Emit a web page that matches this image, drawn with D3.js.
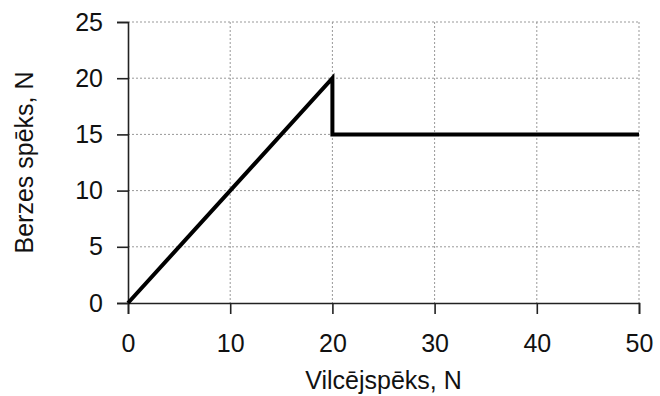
<!DOCTYPE html>
<html>
<head>
<meta charset="utf-8">
<script src="https://cdn.jsdelivr.net/npm/d3@7"></script>
<style>
  body { margin: 0; background: #fff; }
  text { font-family: "Liberation Sans", Arial, Helvetica, sans-serif; fill: #000; }
</style>
</head>
<body>
<div id="chart"></div>
<script>
// data
var pullForce = [0, 20, 20, 50];
var frictionForce = [0, 20, 15, 15];
var xTicks = [0, 10, 20, 30, 40, 50];
var yTicks = [0, 5, 10, 15, 20, 25];
var xLabel = "Vilcējspēks, N";
var yLabel = "Berzes spēks, N";

var margin = { top: 22, right: 21, bottom: 93, left: 128 },
  width = 660 - margin.left - margin.right,
  height = 396 - margin.top - margin.bottom;

var svg = d3.select("#chart")
  .append("svg")
  .attr("width", 660)
  .attr("height", 396)
  .append("g")
  .attr("transform", "translate(" + margin.left + "," + margin.top + ")");

var x = d3.scaleLinear().domain([0, 50]).range([0, width]);
var y = d3.scaleLinear().domain([0, 25]).range([height, 0]);

// grid
svg.append("g")
  .selectAll("line")
  .data(xTicks.slice(1))
  .enter().append("line")
  .attr("x1", function(d) { return x(d); })
  .attr("x2", function(d) { return x(d); })
  .attr("y1", 0)
  .attr("y2", height)
  .style("stroke", "#999")
  .style("stroke-width", 1)
  .style("stroke-dasharray", "2,2");

svg.append("g")
  .selectAll("line")
  .data(yTicks.slice(1))
  .enter().append("line")
  .attr("x1", 0)
  .attr("x2", width)
  .attr("y1", function(d) { return y(d); })
  .attr("y2", function(d) { return y(d); })
  .style("stroke", "#999")
  .style("stroke-width", 1)
  .style("stroke-dasharray", "2,2");

// axes
var xAxis = svg.append("g")
  .attr("transform", "translate(0," + height + ")")
  .call(d3.axisBottom(x).tickValues(xTicks).tickSize(11).tickPadding(20));

var yAxis = svg.append("g")
  .call(d3.axisLeft(y).tickValues(yTicks).tickSize(11).tickPadding(14));

[xAxis, yAxis].forEach(function(a) {
  a.selectAll("path, line").style("stroke", "#222").style("stroke-width", 1.6);
  a.selectAll("text").style("font-size", "25px").style("fill", "#111");
});

// line
var pts = pullForce.map(function(d, i) { return [d, frictionForce[i]]; });
svg.append("path")
  .datum(pts)
  .attr("d", d3.line().x(function(d) { return x(d[0]); }).y(function(d) { return y(d[1]); }))
  .style("fill", "none")
  .style("stroke", "#000")
  .style("stroke-width", 4)
  .style("stroke-linejoin", "miter");

// labels
svg.append("text")
  .attr("x", x(25))
  .attr("y", height + 86)
  .attr("text-anchor", "middle")
  .style("font-size", "25px")
  .style("fill", "#111")
  .text(xLabel);

svg.append("text")
  .attr("transform", "translate(" + (-95) + "," + (height / 2) + ") rotate(-90)")
  .attr("text-anchor", "middle")
  .style("font-size", "25px")
  .style("fill", "#111")
  .text(yLabel);
</script>
</body>
</html>
